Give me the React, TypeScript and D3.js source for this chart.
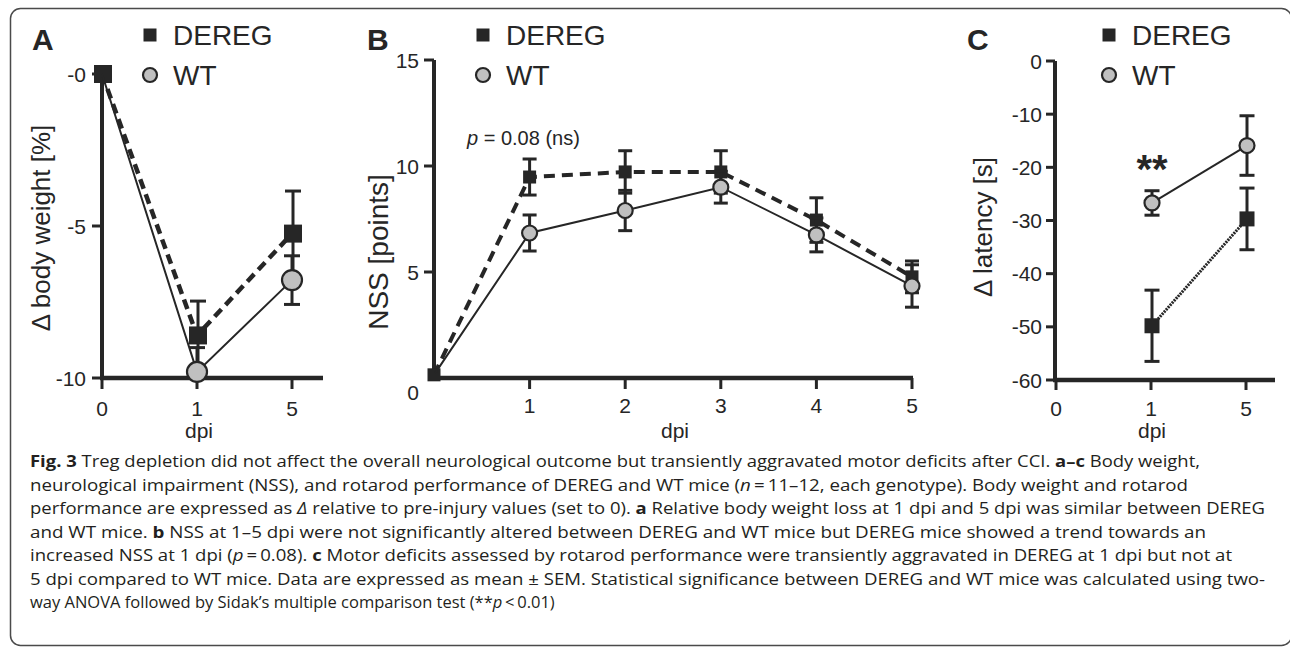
import React from 'react';
import * as d3 from 'd3';

// ---------- data ----------
const dpiA = ['0', '1', '5'];
const bwDereg = [0, -8.6, -5.25];
const bwDeregSem = [0, 1.13, 1.4];
const bwWT = [0, -9.8, -6.78];
const bwWTSem = [0, 0.8, 0.8];
const bwTicks = [0, -5, -10];
const bwTickLabels = ['-0', '-5', '-10'];

const dpiB = [0, 1, 2, 3, 4, 5];
const nssDereg = [0.15, 9.48, 9.72, 9.72, 7.45, 4.77];
const nssDeregSem = [0, 0.85, 1.0, 1.0, 1.05, 0.75];
const nssWT = [0.15, 6.84, 7.9, 9.0, 6.75, 4.34];
const nssWTSem = [0, 0.85, 0.95, 0.75, 0.8, 1.0];
const nssTicks = [5, 10, 15];
const nssTickLabels = ['5', '10', '15'];
const nssXTicks = [1, 2, 3, 4, 5];

const dpiC = ['0', '1', '5'];
const dpiCData = ['1', '5'];
const latDereg = [-49.8, -29.7];
const latDeregSem = [6.7, 5.8];
const latWT = [-26.7, -15.9];
const latWTSem = [2.3, 5.6];
const latTicks = [0, -10, -20, -30, -40, -50, -60];

const seriesNames = ['DEREG', 'WT'];

// caption: segments [text, style] with style '' | 'b' | 'i'
const captionLines: [string, string][][] = [
  [['Fig. 3', 'b'], [' Treg depletion did not affect the overall neurological outcome but transiently aggravated motor deficits after CCI. ', ''], ['a–c', 'b'], [' Body weight,', '']],
  [['neurological impairment (NSS), and rotarod performance of DEREG and WT mice (', ''], ['n', 'i'], ['\u2009=\u200911–12, each genotype). Body weight and rotarod', '']],
  [['performance are expressed as ', ''], ['Δ', 'i'], [' relative to pre-injury values (set to 0). ', ''], ['a', 'b'], [' Relative body weight loss at 1 dpi and 5 dpi was similar between DEREG', '']],
  [['and WT mice. ', ''], ['b', 'b'], [' NSS at 1–5 dpi were not significantly altered between DEREG and WT mice but DEREG mice showed a trend towards an', '']],
  [['increased NSS at 1 dpi (', ''], ['p', 'i'], ['\u2009=\u20090.08). ', ''], ['c', 'b'], [' Motor deficits assessed by rotarod performance were transiently aggravated in DEREG at 1 dpi but not at', '']],
  [['5 dpi compared to WT mice. Data are expressed as mean ± SEM. Statistical significance between DEREG and WT mice was calculated using two-', '']],
  [['way ANOVA followed by Sidak’s multiple comparison test (**', ''], ['p', 'i'], ['\u2009<\u20090.01)', '']],
];
const captionEnds = [1200, 1188, 1265, 1206, 1232, 1265, 0];

// ---------- style ----------
const INK = '#262626';
const GREY = '#c0c0c0';
const FONT = '"Liberation Sans", Arial, Helvetica, sans-serif';
const CAPFONT = '"Open Sans", "Noto Sans", sans-serif';

function ErrorBar({ x, y, sem, yScale, cap }: any) {
  if (!sem) return null;
  const [dMin, dMax] = yScale.domain();
  const hi = Math.min(y + sem, dMax);
  const lo = Math.max(y - sem, dMin);
  const els: any[] = [];
  els.push(<line key="s" x1={x} x2={x} y1={yScale(hi)} y2={yScale(lo)} stroke={INK} strokeWidth={3} />);
  if (y + sem <= dMax) els.push(<line key="t" x1={x - cap / 2} x2={x + cap / 2} y1={yScale(hi)} y2={yScale(hi)} stroke={INK} strokeWidth={3} />);
  if (y - sem >= dMin) els.push(<line key="b" x1={x - cap / 2} x2={x + cap / 2} y1={yScale(lo)} y2={yScale(lo)} stroke={INK} strokeWidth={3} />);
  return <g>{els}</g>;
}

function Square({ x, y, s }: any) {
  return <rect x={x - s / 2} y={y - s / 2} width={s} height={s} fill={INK} />;
}
function Circle({ x, y, r }: any) {
  return <circle cx={x} cy={y} r={r} fill={GREY} stroke={INK} strokeWidth={2.2} />;
}

function Legend({ x, y }: any) {
  return (
    <g>
      <rect x={x - 6.5} y={y - 6.5} width={13} height={13} fill={INK} />
      <text x={x + 23} y={y + 10} fontSize={28} fontFamily={FONT} fill={INK}>{seriesNames[0]}</text>
      <circle cx={x} cy={y + 40} r={7} fill={GREY} stroke={INK} strokeWidth={2.2} />
      <text x={x + 23} y={y + 50} fontSize={28} fontFamily={FONT} fill={INK}>{seriesNames[1]}</text>
    </g>
  );
}

function PanelA() {
  const x = d3.scalePoint<string>().domain(dpiA).range([102, 292]);
  const y = d3.scaleLinear().domain([-10, 0]).range([378, 74]);
  const line = d3.line<number>().x((_, i) => x(dpiA[i])!).y((d) => y(d));
  return (
    <g>
      <text x={32} y={50} fontSize={30} fontWeight="bold" fontFamily={FONT} fill={INK}>A</text>
      <Legend x={150} y={35} />
      <line x1={102} x2={102} y1={y(0)} y2={380} stroke={INK} strokeWidth={4} />
      <line x1={100} x2={323} y1={378} y2={378} stroke={INK} strokeWidth={4.5} />
      {bwTicks.map((t, i) => (
        <g key={t}>
          <line x1={92} x2={102} y1={y(t)} y2={y(t)} stroke={INK} strokeWidth={3} />
          <text x={86} y={y(t) + 7.5} textAnchor="end" fontSize={21} fontFamily={FONT} fill={INK}>{bwTickLabels[i]}</text>
        </g>
      ))}
      {dpiA.map((d) => (
        <g key={d}>
          <line x1={x(d)} x2={x(d)} y1={378} y2={389} stroke={INK} strokeWidth={3} />
          <text x={x(d)} y={416} textAnchor="middle" fontSize={21} fontFamily={FONT} fill={INK}>{d}</text>
        </g>
      ))}
      <text x={199} y={438} textAnchor="middle" fontSize={21} fontFamily={FONT} fill={INK}>dpi</text>
      <text transform="translate(50,228) rotate(-90)" textAnchor="middle" fontSize={26} fontFamily={FONT} fill={INK}>Δ body weight [%]</text>
      <path d={line(bwDereg)!} fill="none" stroke={INK} strokeWidth={4.5} strokeDasharray="10,6" />
      {bwDereg.map((v, i) => <ErrorBar key={i} x={x(dpiA[i])! + 1} y={v} sem={bwDeregSem[i]} yScale={y} cap={16} />)}
      {bwDereg.map((v, i) => <Square key={i} x={x(dpiA[i])! + 1} y={y(v)} s={18} />)}
      <path d={line(bwWT)!} fill="none" stroke={INK} strokeWidth={2} />
      {bwWT.map((v, i) => <ErrorBar key={i} x={x(dpiA[i])!} y={v} sem={bwWTSem[i]} yScale={y} cap={16} />)}
      {bwWT.map((v, i) => (i === 0 ? null : <Circle key={i} x={x(dpiA[i])!} y={y(v)} r={10} />))}
    </g>
  );
}

function PanelB() {
  const x = d3.scaleLinear().domain([0, 5]).range([434, 912]);
  const y = d3.scaleLinear().domain([0, 15]).range([378, 60]);
  const line = d3.line<number>().x((_, i) => x(dpiB[i])).y((d) => y(d));
  return (
    <g>
      <text x={367} y={50} fontSize={30} fontWeight="bold" fontFamily={FONT} fill={INK}>B</text>
      <Legend x={483} y={35} />
      <line x1={434} x2={434} y1={y(15)} y2={380} stroke={INK} strokeWidth={4} />
      <line x1={432} x2={913} y1={378} y2={378} stroke={INK} strokeWidth={4.5} />
      {nssTicks.map((t, i) => (
        <g key={t}>
          <line x1={424} x2={434} y1={y(t)} y2={y(t)} stroke={INK} strokeWidth={3} />
          <text x={419} y={y(t) + 7.5} textAnchor="end" fontSize={21} fontFamily={FONT} fill={INK}>{nssTickLabels[i]}</text>
        </g>
      ))}
      <text x={419} y={400} textAnchor="end" fontSize={21} fontFamily={FONT} fill={INK}>0</text>
      {nssXTicks.map((d) => (
        <g key={d}>
          <line x1={x(d)} x2={x(d)} y1={378} y2={389} stroke={INK} strokeWidth={3} />
          <text x={x(d)} y={413} textAnchor="middle" fontSize={21} fontFamily={FONT} fill={INK}>{d}</text>
        </g>
      ))}
      <text x={675} y={438} textAnchor="middle" fontSize={21} fontFamily={FONT} fill={INK}>dpi</text>
      <text transform="translate(388,252) rotate(-90)" textAnchor="middle" fontSize={28} fontFamily={FONT} fill={INK}>NSS [points]</text>
      <text x={467} y={145} fontSize={20} fontFamily={FONT} fill={INK}><tspan fontStyle="italic">p</tspan> = 0.08 (ns)</text>
      <path d={line(nssDereg)!} fill="none" stroke={INK} strokeWidth={4} strokeDasharray="11,7" />
      {nssDereg.map((v, i) => <ErrorBar key={i} x={x(dpiB[i])} y={v} sem={nssDeregSem[i]} yScale={y} cap={14} />)}
      {nssDereg.map((v, i) => <Square key={i} x={x(dpiB[i])} y={y(v)} s={13} />)}
      <path d={line(nssWT)!} fill="none" stroke={INK} strokeWidth={2} />
      {nssWT.map((v, i) => <ErrorBar key={i} x={x(dpiB[i])} y={v} sem={nssWTSem[i]} yScale={y} cap={14} />)}
      {nssWT.map((v, i) => (i === 0 ? null : <Circle key={i} x={x(dpiB[i])} y={y(v)} r={7.5} />))}
    </g>
  );
}

function PanelC() {
  const x = d3.scalePoint<string>().domain(dpiC).range([1056, 1246]);
  const y = d3.scaleLinear().domain([-60, 0]).range([380, 61]);
  const line = d3.line<number>().x((_, i) => x(dpiCData[i])! + 1).y((d) => y(d));
  return (
    <g>
      <text x={967} y={50} fontSize={30} fontWeight="bold" fontFamily={FONT} fill={INK}>C</text>
      <Legend x={1109} y={35} />
      <line x1={1055} x2={1055} y1={y(0)} y2={382} stroke={INK} strokeWidth={4} />
      <line x1={1053} x2={1275} y1={380} y2={380} stroke={INK} strokeWidth={4.5} />
      {latTicks.map((t) => (
        <g key={t}>
          <line x1={1046} x2={1055} y1={y(t)} y2={y(t)} stroke={INK} strokeWidth={3} />
          <text x={1042} y={y(t) + 7.5} textAnchor="end" fontSize={21} fontFamily={FONT} fill={INK}>{String(t)}</text>
        </g>
      ))}
      {dpiC.map((d) => (
        <g key={d}>
          <line x1={x(d)} x2={x(d)} y1={380} y2={390} stroke={INK} strokeWidth={3} />
          <text x={x(d)} y={416} textAnchor="middle" fontSize={21} fontFamily={FONT} fill={INK}>{d}</text>
        </g>
      ))}
      <text x={1152} y={438} textAnchor="middle" fontSize={21} fontFamily={FONT} fill={INK}>dpi</text>
      <text transform="translate(992,227) rotate(-90)" textAnchor="middle" fontSize={26} fontFamily={FONT} fill={INK}>Δ latency [s]</text>
      <text x={1152} y={183} textAnchor="middle" fontSize={40} fontWeight="bold" fontFamily={FONT} fill={INK}>**</text>
      <path d={line(latDereg)!} fill="none" stroke={INK} strokeWidth={3} strokeDasharray="2,1" />
      {latDereg.map((v, i) => <ErrorBar key={i} x={x(dpiCData[i])! + 1} y={v} sem={latDeregSem[i]} yScale={y} cap={15} />)}
      {latDereg.map((v, i) => <Square key={i} x={x(dpiCData[i])! + 1} y={y(v)} s={15} />)}
      <path d={line(latWT)!} fill="none" stroke={INK} strokeWidth={2} />
      {latWT.map((v, i) => <ErrorBar key={i} x={x(dpiCData[i])! + 1} y={v} sem={latWTSem[i]} yScale={y} cap={15} />)}
      {latWT.map((v, i) => <Circle key={i} x={x(dpiCData[i])! + 1} y={y(v)} r={7.5} />)}
    </g>
  );
}

function Caption() {
  const x0 = 30;
  const base = d3.scaleLinear().domain([0, 6]).range([467, 608]);
  return (
    <g>
      {captionLines.map((segs, i) => {
        const fit = captionEnds[i] > 0 ? { textLength: captionEnds[i] - x0, lengthAdjust: 'spacingAndGlyphs' } : {};
        return (
          <text key={i} x={x0} y={base(i)} fontSize={16.5} fontFamily={CAPFONT} fill="#231f20" {...fit}>
            {segs.map(([t, s], j) => (
              <tspan key={j} fontWeight={s === 'b' ? 'bold' : 'normal'} fontStyle={s === 'i' ? 'italic' : 'normal'}>{t}</tspan>
            ))}
          </text>
        );
      })}
    </g>
  );
}

export default function App() {
  return (
    <svg width={1290} height={647} style={{ position: 'absolute', left: 0, top: 0, background: '#fff' }}>
      <rect x={0} y={0} width={1290} height={647} fill="#fff" />
      <rect x={10.5} y={8.5} width={1281} height={637} rx={10} ry={10} fill="none" stroke="#4a4a4a" strokeWidth={1.5} />
      <PanelA />
      <PanelB />
      <PanelC />
      <Caption />
    </svg>
  );
}
